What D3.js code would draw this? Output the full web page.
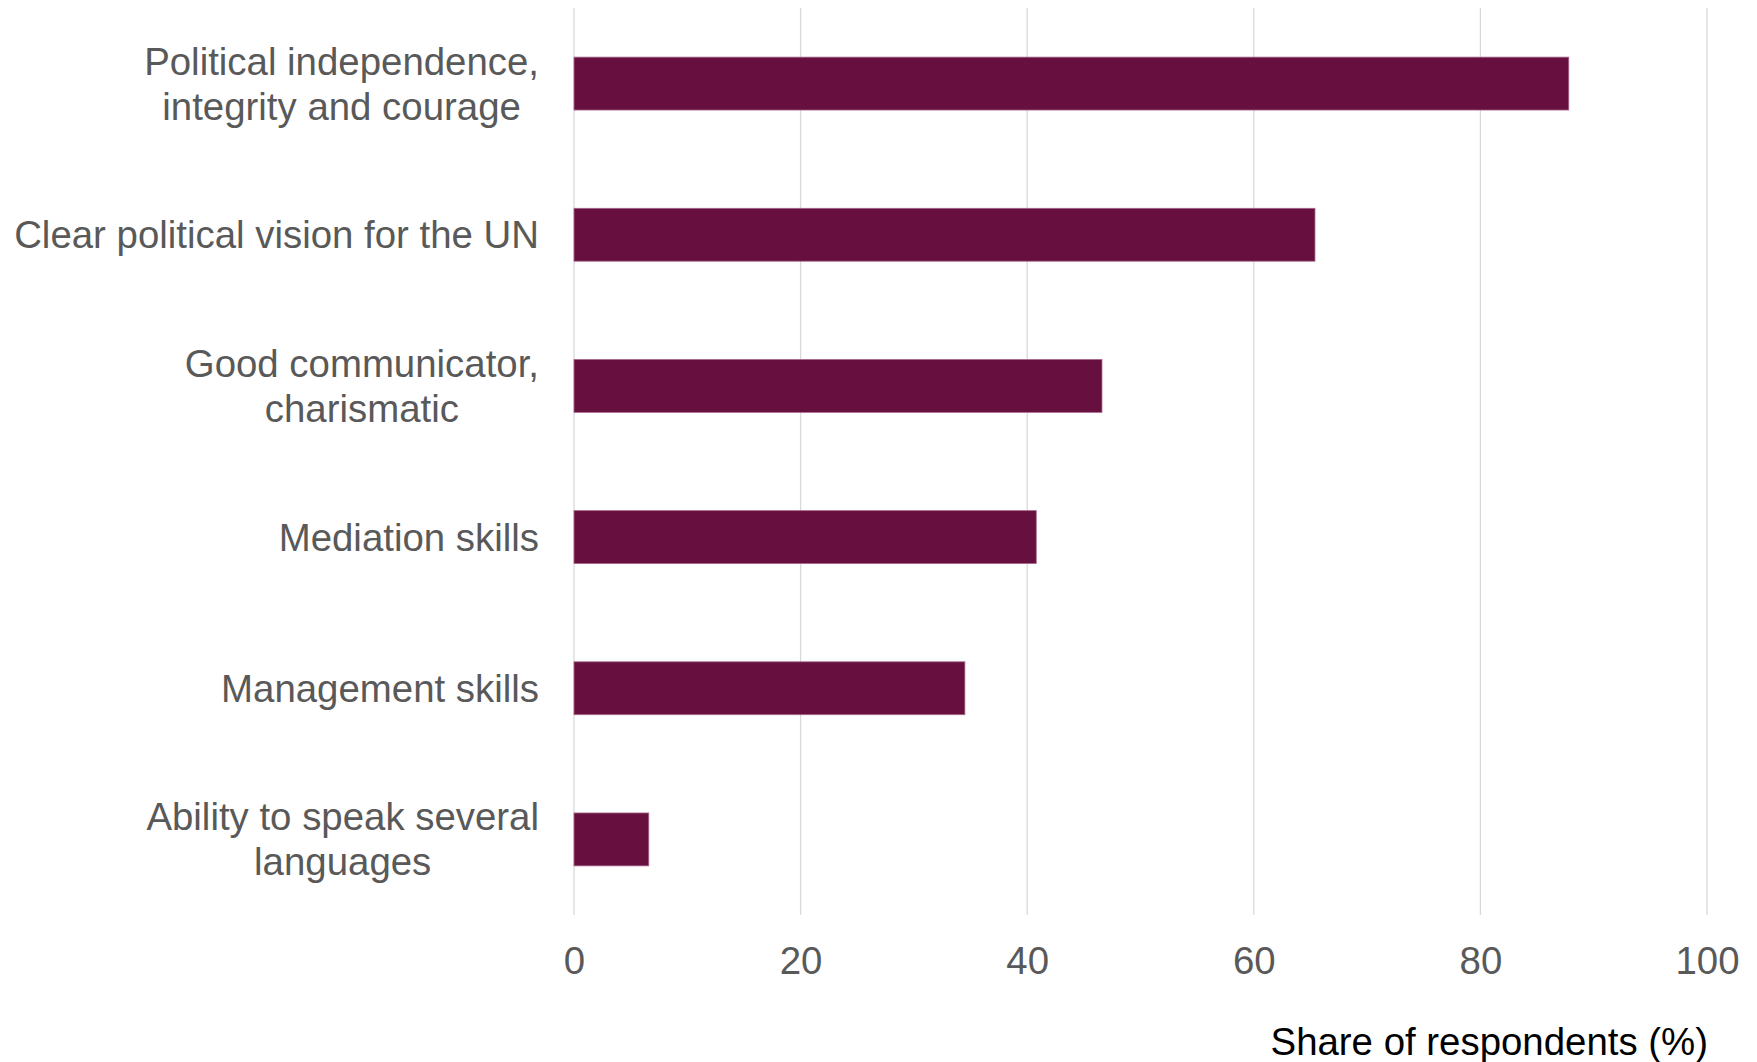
<!DOCTYPE html>
<html>
<head>
<meta charset="utf-8">
<script src="https://cdn.jsdelivr.net/npm/d3@7"></script>
<style>
  html, body { margin: 0; padding: 0; background: #ffffff; }
  svg { display: block; }
  text { font-family: "Liberation Sans", Arial, sans-serif; }
</style>
</head>
<body>
<svg id="chart" width="1757" height="1062"></svg>
<script>
const categories = [
  ["Political independence,", "integrity and courage"],
  ["Clear political vision for the UN"],
  ["Good communicator,", "charismatic"],
  ["Mediation skills"],
  ["Management skills"],
  ["Ability to speak several", "languages"]
];
const values = [87.8, 65.4, 46.6, 40.8, 34.5, 6.6];
const xTicks = [0, 20, 40, 60, 80, 100];
const axisTitle = "Share of respondents (%)";

(function () {
const svg = d3.select("#chart");
const plotLeft = 574, plotRight = 1707, plotTop = 8, plotBottom = 915;
const fontSize = 38.4;
const lineGap = 45;

const keys = categories.map((c, i) => i);
const x = d3.scaleLinear().domain([0, 100]).range([plotLeft, plotRight]);
const y = d3.scaleBand().domain(keys).range([plotTop, plotBottom]).paddingInner(0.65).paddingOuter(0.325);

// gridlines
svg.append("g").selectAll("line").data(xTicks).join("line")
  .attr("x1", d => x(d)).attr("x2", d => x(d))
  .attr("y1", plotTop).attr("y2", plotBottom)
  .attr("stroke", "#d9d9d9").attr("stroke-width", 1.3);

// bars
svg.append("g").selectAll("rect").data(values).join("rect")
  .attr("x", x(0))
  .attr("y", (d, i) => y(i))
  .attr("width", d => x(d) - x(0))
  .attr("height", y.bandwidth())
  .attr("fill", "#67103F")
  .attr("stroke", "#a8678a")
  .attr("stroke-width", 0.8);

// category labels
const labelRight = 539;
const lg = svg.append("g");
categories.forEach((lines, i) => {
  const g = lg.append("g");
  const cy = y(i) + y.bandwidth() / 2;
  const texts = lines.map((ln, j) => g.append("text")
    .attr("y", cy + (j - (lines.length - 1) / 2) * lineGap)
    .attr("dy", "0.35em")
    .attr("text-anchor", "middle")
    .attr("font-size", fontSize)
    .attr("fill", "#595959")
    .text(ln));
  const maxW = d3.max(texts, t => t.node().getComputedTextLength());
  texts.forEach(t => t.attr("x", labelRight - maxW / 2));
});

// x tick labels
const xAxis = d3.axisBottom(x).tickValues(xTicks).tickSize(0).tickPadding(0).tickFormat(d3.format("d"));
const ax = svg.append("g").attr("transform", "translate(0, 961)").call(xAxis);
ax.select(".domain").remove();
ax.selectAll("text")
  .attr("y", 0).attr("dy", "0.35em")
  .attr("font-size", fontSize)
  .attr("font-family", "'Liberation Sans', Arial, sans-serif")
  .attr("fill", "#595959");

// axis title
svg.append("text")
  .attr("x", 1708).attr("y", 1042).attr("dy", "0.35em")
  .attr("text-anchor", "end")
  .attr("font-size", fontSize)
  .attr("fill", "#000000")
  .text(axisTitle);
})();
</script>
</body>
</html>
